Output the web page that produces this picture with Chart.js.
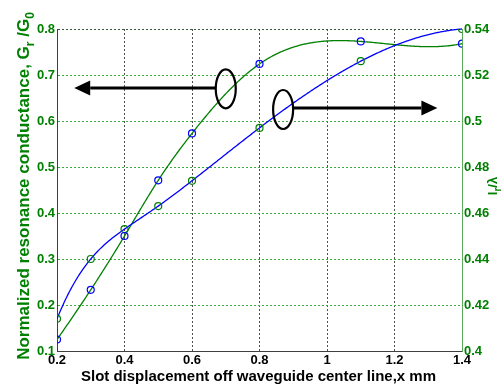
<!DOCTYPE html>
<html><head><meta charset="utf-8">
<script src="https://cdn.jsdelivr.net/npm/chart.js@4"></script>
<style>html,body{margin:0;padding:0;background:#fff;}#wrap{width:504px;height:387px;}</style>
</head><body><div id="wrap"><canvas id="c" width="504" height="387"></canvas></div>
<script>
// ---- data ----
const displacement = [0.2, 0.3, 0.4, 0.5, 0.6, 0.8, 1.1, 1.4];
const conductance  = [0.125, 0.233, 0.350, 0.471, 0.573, 0.724, 0.773, 0.768];
const lengthRatio  = [0.414, 0.440, 0.453, 0.463, 0.474, 0.497, 0.526, 0.540];
const xTicks     = [0.2, 0.4, 0.6, 0.8, 1.0, 1.2, 1.4];
const leftTicks  = [0.1, 0.2, 0.3, 0.4, 0.5, 0.6, 0.7, 0.8];
const rightTicks = [0.40, 0.42, 0.44, 0.46, 0.48, 0.50, 0.52, 0.54];
const xTitle = 'Slot displacement off waveguide center line,x mm';
const leftTitle = [['Normalized resonance conductance, G', 0], ['r', 1], [' /G', 0], ['0', 1]];
const rightTitle = [['l', 0], ['r', 1], ['/\u03bb', 0]];
// annotation anchors in data units (x, left-axis y)
const arrowLeft  = {ellipse: [0.70, 0.670], tip: [0.251, 0.672]};
const arrowRight = {ellipse: [0.870, 0.625], tip: [1.327, 0.628]};

const FONT = "'Liberation Sans',Arial,sans-serif";
const GREEN = '#008000';
const fmt = v => String(parseFloat(Number(v).toFixed(2)));

function notAKnot(xs, ys) {
  const n = xs.length, h = [];
  for (let i = 0; i < n - 1; i++) h[i] = xs[i + 1] - xs[i];
  const A = Array.from({length: n}, () => new Array(n).fill(0));
  const b = new Array(n).fill(0);
  A[0][0] = h[1]; A[0][1] = -(h[0] + h[1]); A[0][2] = h[0];
  for (let i = 1; i < n - 1; i++) {
    A[i][i - 1] = h[i - 1]; A[i][i] = 2 * (h[i - 1] + h[i]); A[i][i + 1] = h[i];
    b[i] = 6 * ((ys[i + 1] - ys[i]) / h[i] - (ys[i] - ys[i - 1]) / h[i - 1]);
  }
  A[n - 1][n - 3] = h[n - 2]; A[n - 1][n - 2] = -(h[n - 3] + h[n - 2]); A[n - 1][n - 1] = h[n - 3];
  for (let c = 0; c < n; c++) {
    let p = c;
    for (let r = c + 1; r < n; r++) if (Math.abs(A[r][c]) > Math.abs(A[p][c])) p = r;
    [A[c], A[p]] = [A[p], A[c]]; [b[c], b[p]] = [b[p], b[c]];
    for (let r = c + 1; r < n; r++) {
      const f = A[r][c] / A[c][c];
      for (let k = c; k < n; k++) A[r][k] -= f * A[c][k];
      b[r] -= f * b[c];
    }
  }
  const M = new Array(n).fill(0);
  for (let r = n - 1; r >= 0; r--) {
    let s = b[r];
    for (let k = r + 1; k < n; k++) s -= A[r][k] * M[k];
    M[r] = s / A[r][r];
  }
  return M;
}
function splineAt(xs, ys, M, x) {
  let i = 0;
  while (i < xs.length - 2 && x > xs[i + 1]) i++;
  const h = xs[i + 1] - xs[i], a = xs[i + 1] - x, c = x - xs[i];
  return M[i] * a * a * a / (6 * h) + M[i + 1] * c * c * c / (6 * h)
    + (ys[i] / h - M[i] * h / 6) * a + (ys[i + 1] / h - M[i + 1] * h / 6) * c;
}

const splinePlugin = {
  id: 'spline',
  beforeDatasetsDraw(chart) {
    const ctx = chart.ctx, ca = chart.chartArea, xs = chart.scales.x;
    chart.data.datasets.forEach(ds => {
      const ys = chart.scales[ds.yAxisID];
      const X = ds.data.map(p => p.x), Y = ds.data.map(p => p.y);
      const M = notAKnot(X, Y);
      ctx.save();
      ctx.beginPath(); ctx.rect(ca.left, ca.top - 2, ca.right - ca.left, ca.bottom - ca.top + 4); ctx.clip();
      ctx.beginPath();
      const steps = 400;
      for (let k = 0; k <= steps; k++) {
        const x = X[0] + (X[X.length - 1] - X[0]) * k / steps;
        const px = xs.getPixelForValue(x), py = ys.getPixelForValue(splineAt(X, Y, M, x));
        if (k === 0) ctx.moveTo(px, py); else ctx.lineTo(px, py);
      }
      ctx.strokeStyle = ds.splineColor; ctx.lineWidth = 1.3; ctx.setLineDash([]); ctx.stroke();
      ctx.restore();
    });
  }
};

function drawRich(ctx, parts, cx, cy, size, subSize, color) {
  ctx.save();
  ctx.translate(cx, cy); ctx.rotate(-Math.PI / 2);
  let total = 0;
  const widths = parts.map(([t, sub]) => {
    ctx.font = `bold ${sub ? subSize : size}px ${FONT}`;
    const w = ctx.measureText(t).width; total += w; return w;
  });
  let x = -total / 2;
  ctx.fillStyle = color; ctx.textBaseline = 'alphabetic'; ctx.textAlign = 'left';
  parts.forEach(([t, sub], i) => {
    ctx.font = `bold ${sub ? subSize : size}px ${FONT}`;
    ctx.fillText(t, x, sub ? size * 0.3 : 0);
    x += widths[i];
  });
  ctx.restore();
}

function drawArrow(ctx, chart, a) {
  const xs = chart.scales.x, ys = chart.scales.y;
  const ex = xs.getPixelForValue(a.ellipse[0]), ey = ys.getPixelForValue(a.ellipse[1]);
  const tx = xs.getPixelForValue(a.tip[0]), ty = ys.getPixelForValue(a.tip[1]);
  const rx = 10, ry = 19.5, headLen = 16, headHalf = 7.5;
  const dir = Math.sign(tx - ex);
  const startX = ex + dir * rx;
  const baseX = tx - dir * headLen;
  ctx.save();
  ctx.setLineDash([]);
  ctx.strokeStyle = '#000'; ctx.fillStyle = '#000';
  ctx.lineWidth = 2.2;
  ctx.beginPath(); ctx.ellipse(ex, ey, rx, ry, 0, 0, Math.PI * 2); ctx.stroke();
  ctx.lineWidth = 3;
  ctx.beginPath(); ctx.moveTo(startX, ty); ctx.lineTo(baseX, ty); ctx.stroke();
  ctx.beginPath(); ctx.moveTo(tx, ty); ctx.lineTo(baseX, ty - headHalf); ctx.lineTo(baseX, ty + headHalf); ctx.closePath(); ctx.fill();
  ctx.restore();
}

const decorPlugin = {
  id: 'decor',
  afterDraw(chart) {
    const ctx = chart.ctx, ca = chart.chartArea;
    drawArrow(ctx, chart, arrowLeft);
    drawArrow(ctx, chart, arrowRight);
    ctx.save();
    ctx.font = `bold 15px ${FONT}`; ctx.fillStyle = '#000';
    ctx.textAlign = 'center'; ctx.textBaseline = 'alphabetic';
    ctx.fillText(xTitle, (ca.left + ca.right) / 2 - 1, 381);
    ctx.restore();
    drawRich(ctx, leftTitle, 29, 186, 17, 12, GREEN);
    drawRich(ctx, rightTitle, 497, 186, 13, 10, GREEN);
  }
};

const tickFont = {family: FONT, size: 13, weight: 'bold'};
const edge = (v, a, b) => Math.abs(v - a) < 1e-9 || Math.abs(v - b) < 1e-9;

new Chart(document.getElementById('c'), {
  type: 'scatter',
  data: {
    datasets: [
      {
        label: 'Gr/G0', yAxisID: 'y',
        data: displacement.map((x, i) => ({x, y: conductance[i]})),
        showLine: false, pointStyle: 'circle', pointRadius: 3.5, pointBorderWidth: 1.2,
        pointBorderColor: '#0000ff', pointBackgroundColor: 'rgba(0,0,0,0)', splineColor: GREEN
      },
      {
        label: 'lr/\u03bb', yAxisID: 'y1',
        data: displacement.map((x, i) => ({x, y: lengthRatio[i]})),
        showLine: false, pointStyle: 'circle', pointRadius: 3.5, pointBorderWidth: 1.2,
        pointBorderColor: GREEN, pointBackgroundColor: 'rgba(0,0,0,0)', splineColor: '#0000ff'
      }
    ]
  },
  options: {
    responsive: false, animation: false, devicePixelRatio: 1,
    layout: {padding: {top: 29, left: 0, right: 0, bottom: 0}},
    plugins: {legend: {display: false}, tooltip: {enabled: false}},
    scales: {
      x: {
        type: 'linear', position: 'bottom', min: 0.2, max: 1.4,
        afterFit: s => { s.height = 36; },
        afterBuildTicks: s => { s.ticks = xTicks.map(v => ({value: v})); },
        ticks: {color: '#000', font: tickFont, padding: 2, maxRotation: 0, autoSkip: false, callback: v => fmt(v)},
        grid: {drawTicks: false, lineWidth: 1,
               color: c => (c.tick && edge(c.tick.value, 0.2, 1.4)) ? 'rgba(0,0,0,0)' : '#505050'},
        border: {display: true, color: '#404040', width: 1, dash: [2, 2]}
      },
      y: {
        type: 'linear', position: 'left', min: 0.1, max: 0.8,
        afterFit: s => { s.width = 57; },
        afterBuildTicks: s => { s.ticks = leftTicks.map(v => ({value: v})); },
        ticks: {color: GREEN, font: tickFont, padding: 2, autoSkip: false, callback: v => fmt(v)},
        grid: {drawTicks: false, lineWidth: 1,
               color: c => {
                 if (!c.tick) return 'rgba(0,0,0,0)';
                 if (Math.abs(c.tick.value - 0.1) < 1e-9) return 'rgba(0,0,0,0)';
                 if (Math.abs(c.tick.value - 0.8) < 1e-9) return '#3a5a3a';
                 return '#40a840';
               }},
        border: {display: true, color: '#404040', width: 1, dash: [2, 2]}
      },
      y1: {
        type: 'linear', position: 'right', min: 0.4, max: 0.54,
        afterFit: s => { s.width = 42; },
        afterBuildTicks: s => { s.ticks = rightTicks.map(v => ({value: v})); },
        ticks: {color: GREEN, font: tickFont, padding: 2, autoSkip: false, callback: v => fmt(v)},
        grid: {display: false, drawOnChartArea: false, drawTicks: false},
        border: {display: true, color: '#5aa85a', width: 1}
      }
    }
  },
  plugins: [splinePlugin, decorPlugin]
});
</script>
</body></html>
